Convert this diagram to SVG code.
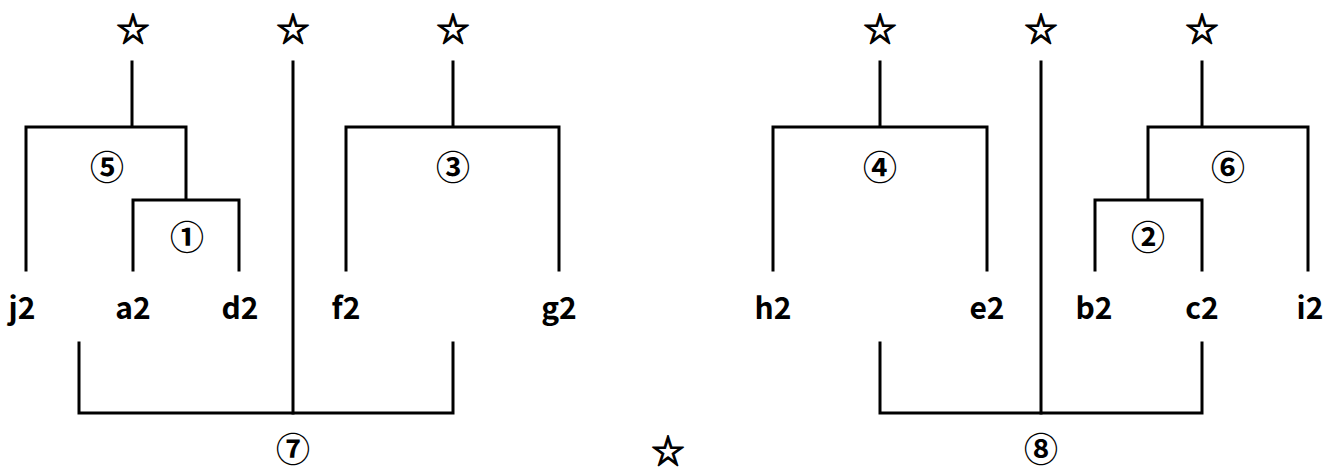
<svg xmlns="http://www.w3.org/2000/svg" width="1343" height="472" viewBox="0 0 1343 472">
<style>
.ln{fill:none;stroke:#000;stroke-width:3;stroke-linecap:square}
.lb{font-family:"Noto Sans CJK JP","Liberation Sans",sans-serif;font-weight:bold;font-size:30px;text-anchor:middle;dominant-baseline:central;fill:#000}
.cn{font-family:"Noto Sans CJK JP",sans-serif;font-weight:bold;font-size:34px;text-anchor:middle;dominant-baseline:central;fill:#000}
.st{font-family:"Noto Sans CJK JP",sans-serif;font-weight:bold;font-size:33px;text-anchor:middle;dominant-baseline:central;fill:#000;stroke:#000;stroke-width:1.2}
</style>
<rect width="1343" height="472" fill="#fff"/>
<g id="connectors">
<path class="ln" d="M132,62 V127 M26,270 V127 H186 V200 M133,270 V200 H239 V270"/>
<path class="ln" d="M293,62 V413"/>
<path class="ln" d="M453,62 V127 M346,270 V127 H559 V270"/>
<path class="ln" d="M79,343 V413 H453 V343"/>
<path class="ln" d="M880,62 V127 M773,270 V127 H987 V270"/>
<path class="ln" d="M1041,62 V413"/>
<path class="ln" d="M1202,62 V127 M1148,200 V127 H1308 V270 M1095,270 V200 H1202 V270"/>
<path class="ln" d="M880,343 V413 H1202 V343"/>
</g>
<g id="stars">
<text class="st" x="133" y="27">☆</text>
<text class="st" x="293" y="27">☆</text>
<text class="st" x="453" y="27">☆</text>
<text class="st" x="880" y="27">☆</text>
<text class="st" x="1041" y="27">☆</text>
<text class="st" x="1202" y="27">☆</text>
<text class="st" x="668" y="449">☆</text>
</g>
<g id="circled">
<text class="cn" x="107" y="165">⑤</text>
<text class="cn" x="187" y="235">①</text>
<text class="cn" x="453" y="165">③</text>
<text class="cn" x="293" y="447">⑦</text>
<text class="cn" x="880" y="165">④</text>
<text class="cn" x="1228" y="165">⑥</text>
<text class="cn" x="1148" y="235">②</text>
<text class="cn" x="1041" y="447">⑧</text>
</g>
<g id="leaves">
<text class="lb" x="22" y="306">j2</text>
<text class="lb" x="133" y="306">a2</text>
<text class="lb" x="240" y="306">d2</text>
<text class="lb" x="346" y="306">f2</text>
<text class="lb" x="559" y="306">g2</text>
<text class="lb" x="773" y="306">h2</text>
<text class="lb" x="987" y="306">e2</text>
<text class="lb" x="1094" y="306">b2</text>
<text class="lb" x="1202" y="306">c2</text>
<text class="lb" x="1310" y="306">i2</text>
</g>
</svg>
